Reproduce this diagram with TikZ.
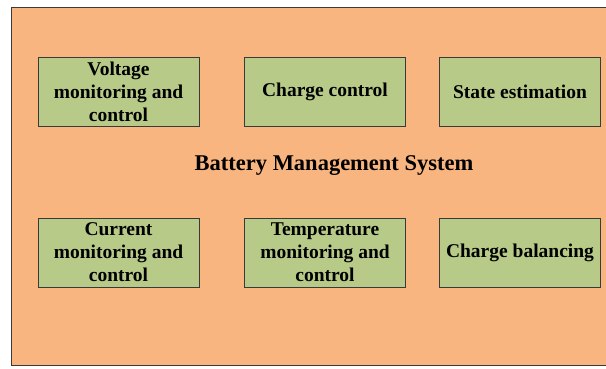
\documentclass[tikz,border=0pt]{standalone}
\usepackage{fontspec}
\setmainfont{Liberation Serif}
\definecolor{bmsorange}{HTML}{F8B57F}
\definecolor{bmsgreen}{HTML}{B7CA88}
\definecolor{bmsedge}{HTML}{3A3A3A}
\begin{document}
\begin{tikzpicture}[x=1pt,y=-1pt,
  fn/.style={draw=bmsedge, line width=1pt, fill=bmsgreen, minimum width=161pt, minimum height=69pt,
    align=center, inner sep=1pt, font=\bfseries\fontsize{19.5}{23}\selectfont, text=black}]
\useasboundingbox (0,0) rectangle (606,368);
\draw[draw=bmsedge, line width=1pt, fill=bmsorange] (11,7) -- (620,7) -- (620,365) -- (11,365) -- cycle;
\node[fn] (volt) at (118.5,91.5) {Voltage\\monitoring and\\control};
\node[fn] (chg) at (325,91.5) {Charge control};
\node[fn] (state) at (520,91.5) {State estimation};
\node[fn] (curr) at (118.5,252.5) {Current\\monitoring and\\control};
\node[fn] (temp) at (325,252.5) {Temperature\\monitoring and\\control};
\node[fn] (bal) at (520,252.5) {Charge balancing};
\node[font=\bfseries\fontsize{22.5}{27}\selectfont, text=black] (title) at (334,165.5) {Battery Management System};
\end{tikzpicture}
\end{document}
